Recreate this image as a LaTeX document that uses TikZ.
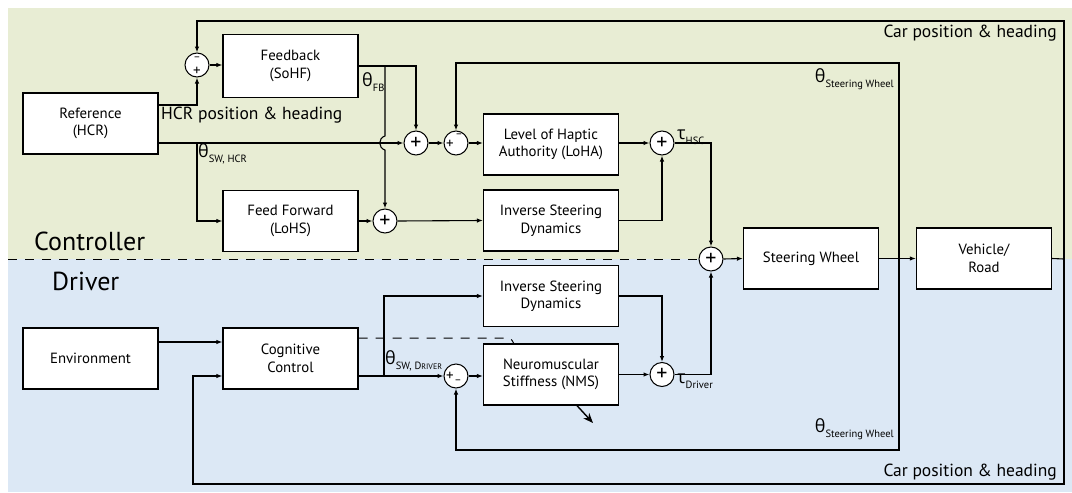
\documentclass[tikz,border=0pt]{standalone}
\usepackage{fontspec}
\setmainfont{PT Sans}
\newfontfamily\gk{Open Sans}
\usetikzlibrary{arrows.meta}
\definecolor{ctrlgreen}{RGB}{232,237,212}
\definecolor{drvblue}{RGB}{220,232,245}
\newcommand{\thsub}[2]{{\gk\fontsize{18}{18}\selectfont #1}\raisebox{-5pt}{\fontsize{10.5}{10.5}\selectfont #2}}
\begin{document}
\begin{tikzpicture}[x=1pt,y=-1pt,
  blk/.style={draw, line width=1.3pt, fill=white, minimum width=135pt, minimum height=61pt, align=center, font=\fontsize{14.8}{17.5}\selectfont, inner sep=2pt},
  sumc/.style={draw, circle, line width=1pt, fill=white, minimum size=24pt, inner sep=0pt},
  ln/.style={line width=1.1pt},
  arr/.style={ln, -{Latex[length=6pt,width=4.5pt]}},
  lbl/.style={font=\fontsize{17.5}{20}\selectfont, inner sep=0pt},
  sgn/.style={font=\fontsize{22}{22}\selectfont, inner sep=0pt},
  ssgn/.style={font=\fontsize{15}{15}\selectfont, inner sep=0pt},
  msgn/.style={font=\fontsize{11}{11}\selectfont, inner sep=0pt},
  dsh/.style={line width=1pt, dash pattern=on 9pt off 8pt}]
\useasboundingbox (0,0) rectangle (1072,493);
% backgrounds
\fill[ctrlgreen] (8,8) rectangle (1072,259);
\fill[drvblue] (8,259) rectangle (1072,492);

% blocks
\node[blk] (ref) at (90.5,123.5) {Reference\\(HCR)};
\node[blk, minimum height=63pt] (fb) at (290.5,66) {Feedback\\(SoHF)};
\node[blk] (ff) at (290.5,221) {Feed Forward\\(LoHS)};
\node[blk] (loha) at (551,144.5) {Level of Haptic\\Authority (LoHA)};
\node[blk] (isd1) at (551,220.5) {Inverse Steering\\Dynamics};
\node[blk] (sw) at (811,258.5) {Steering Wheel};
\node[blk] (veh) at (984,258.5) {Vehicle/\\Road};
\node[blk] (env) at (90.5,358.5) {Environment};
\node[blk] (cog) at (290.5,358.5) {Cognitive\\Control};
\node[blk] (isd2) at (551,296) {Inverse Steering\\Dynamics};
\node[blk] (nms) at (551,374.5) {Neuromuscular\\Stiffness (NMS)};

% dashed separator
\node[sumc] (s6) at (711,259) {};
\draw[dsh] (8,259) -- (s6.west);

% sums
\node[sumc] (s1) at (197,65) {};
\node[sumc] (s2) at (416,143) {};
\node[sumc] (s3) at (456,143) {};
\node[sumc] (s4) at (662,143) {};
\node[sumc] (s5) at (385,221) {};
\node[sumc] (s7) at (456,376) {};
\node[sumc] (s8) at (662,374.5) {};

\node[msgn] at (197,59) {–};
\node[ssgn] at (197,71) {+};
\node[sgn] at (s2) {+};
\node[ssgn] at (450,144) {+};
\node[msgn] at (459,136) {–};
\node[sgn] at (s4) {+};
\node[sgn] at (s5) {+};
\node[sgn] at (s6) {+};
\node[ssgn] at (450,376) {+};
\node[msgn] at (458,382) {–};
\node[sgn] at (s8) {+};

% junction coordinates
\coordinate (j1) at (385,66);
\coordinate (j2) at (197,143);
\coordinate (j3) at (899,259);
\coordinate (j4) at (384,376);
\coordinate (cp) at (1064,259);

% controller connections
\draw[arr] ([yshift=18.5pt]ref.east) -| (s1.south);
\draw[arr] (s1.east) -- (s1.east -| fb.west);
\draw[arr] ([yshift=-19.5pt]ref.east) -- (s2.west);
\draw[arr] (j2) |- (ff.west);
\draw[arr] (fb.east) -| (s2.north);
\draw[arr] (j1) -- (385,136) .. controls (378,138) and (378,148) .. (385,150) -- (s5.north);
\draw[arr] (ff.east) -- (s5.west);
\draw[arr] (s5.east) -- (isd1.west);
\draw[arr] (s2.east) -- (s3.west);
\draw[arr] (s3.east) -- (s3.east -| loha.west);
\draw[arr] (loha.east |- s4) -- (s4.west);
\draw[arr] (isd1.east) -| (s4.south);
\draw[arr] (s4.east) -| (s6.north);
\draw[arr] (s6.east) -- (sw.west);
\draw[arr] (sw.east) -- (veh.west);
\draw[arr] (j3) -- (899,63) -| (s3.north);
\draw[ln] (veh.east) -- (cp);
\draw[arr] (cp) -- (1064,21) -| (s1.north);

% driver connections
\draw[arr] ([yshift=16.5pt]env.east) -- ([yshift=16.5pt]cog.west);
\draw[arr] ([yshift=-17.5pt]cog.east) -- (s7.west);
\draw[arr] (j4) |- (isd2.west);
\draw[arr] (s7.east) -- (s7.east -| nms.west);
\draw[arr] (nms.east) -- (s8.west);
\draw[arr] (isd2.east) -| (s8.north);
\draw[arr] (s8.east) -| (s6.south);
\draw[arr] (j3) -- (899,450) -| (s7.south);
\draw[arr] (cp) -- (1064,484) -| (193,376) -- ([yshift=-17.5pt]cog.west);
\draw[dsh] ([yshift=20.5pt]cog.east) -- (505,338) .. controls (511,338) .. (514,344);
\draw[line width=1.4pt, -{Stealth[length=10pt,width=8pt]}] ([xshift=26pt]nms.south) -- (593,423);

% labels
\node[font=\fontsize{26}{28}\selectfont, anchor=west, inner sep=0pt] (lctrl) at (34,241) {Controller};
\node[font=\fontsize{26}{28}\selectfont, anchor=west, inner sep=0pt] (ldrv) at (52,281) {Driver};
\node[lbl, anchor=west] (lhcr) at (161,115) {HCR position \& heading};
\node[lbl, anchor=east] (lcar1) at (1057,33) {Car position \& heading};
\node[lbl, anchor=east] (lcar2) at (1057,472) {Car position \& heading};
\node[anchor=west, inner sep=0pt] (lthfb) at (362,82) {\thsub{θ}{FB}};
\node[anchor=west, inner sep=0pt] (lthhcr) at (198,154) {\thsub{θ}{SW, HCR}};
\node[anchor=east, inner sep=0pt] (lthsw1) at (894,79) {\thsub{θ}{Steering Wheel}};
\node[anchor=east, inner sep=0pt] (lthsw2) at (894,429) {\thsub{θ}{Steering Wheel}};
\node[anchor=west, inner sep=0pt] (ltauh) at (677,137) {\thsub{τ}{HSC}};
\node[anchor=west, inner sep=0pt] (ltaud) at (677,381) {\thsub{τ}{Driver}};
\node[anchor=west, inner sep=0pt] (lthd) at (385,361) {\thsub{θ}{SW, D{\fontsize{8}{8}\selectfont RIVER}}};
\end{tikzpicture}
\end{document}
